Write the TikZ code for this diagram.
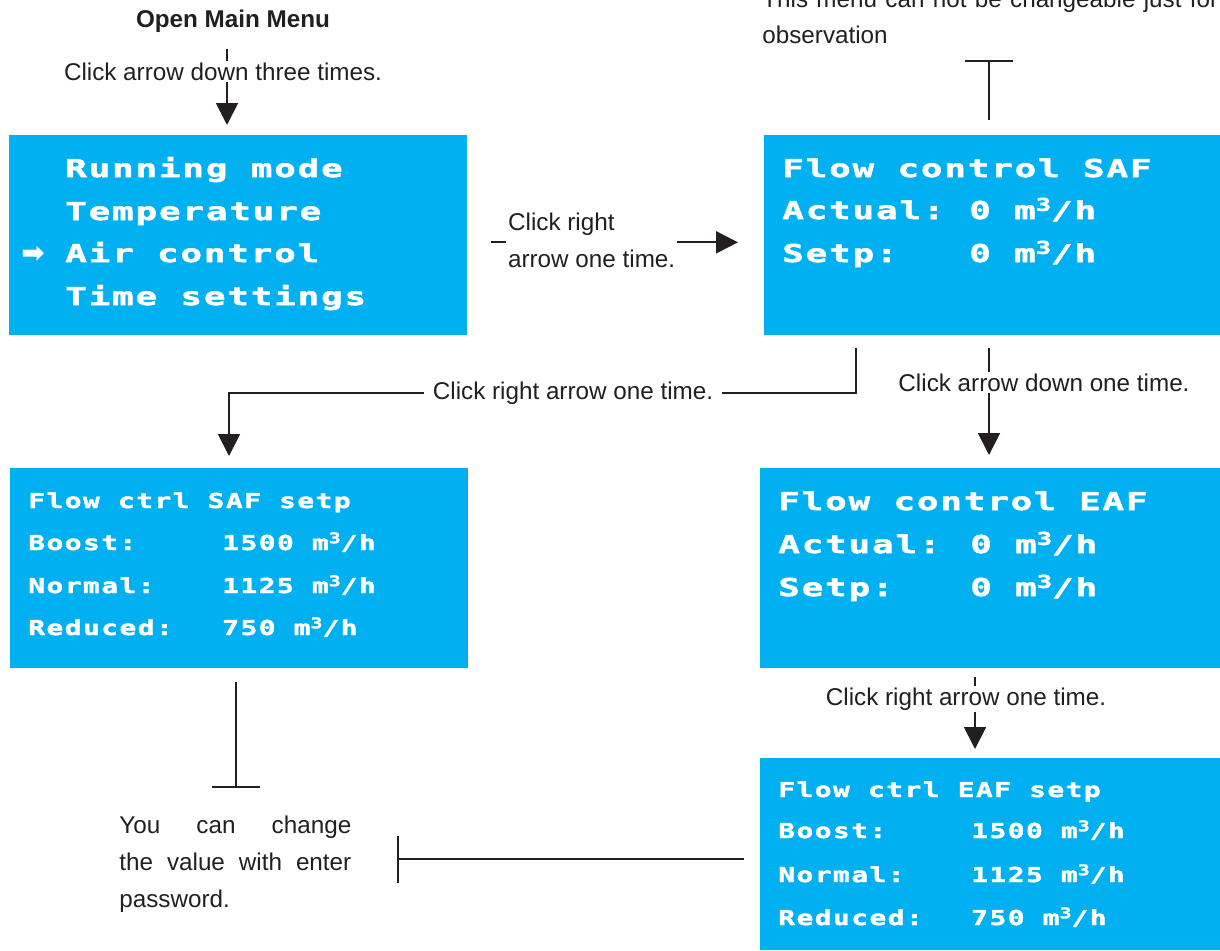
\documentclass[tikz,border=0pt]{standalone}
\usepackage{fontspec}
\setmainfont{Liberation Sans}
\newfontfamily\lcdfont[FakeStretch=1.45,FakeBold=2.2,LetterSpace=8]{DejaVu Sans Mono}
\newfontfamily\lcdsmallfont[FakeStretch=1.35,FakeBold=2,LetterSpace=7.5]{DejaVu Sans Mono}
\newfontfamily\symbolfont{DejaVu Sans}
\usetikzlibrary{arrows.meta,calc}

\definecolor{lcdblue}{RGB}{0,176,240}
\definecolor{ink}{RGB}{35,31,32}
\newcommand{\flowunit}{m\raisebox{0.33em}{\scalebox{0.72}{3}}/h}

\tikzset{
  screen/.style={fill=lcdblue, inner sep=0pt, anchor=north west},
  lcd/.style={text=white, inner sep=0pt, anchor=base west,
    font=\lcdfont\bfseries\fontsize{14}{14}\selectfont},
  lcdsmall/.style={lcd, font=\lcdsmallfont\bfseries\fontsize{11.7}{12}\selectfont},
  note/.style={text=ink, inner sep=0pt, font=\fontsize{13.8}{21}\selectfont},
  cut/.style={note, fill=white, inner xsep=5pt, inner ysep=1pt},
  flow/.style={draw=ink, line width=1.1pt, -{Triangle[length=12.5pt,width=12.5pt]}},
  stopline/.style={draw=ink, line width=1.1pt, -{Bar[width=27pt]}}
}

\begin{document}
\begin{tikzpicture}[x=0.02cm, y=-0.02cm]
\useasboundingbox (0,0) rectangle (1220,950);

% display screens
\node[screen, minimum width=9.16cm, minimum height=4cm] (mainmenu) at (9,135) {};
\node[screen, minimum width=9.16cm, minimum height=4cm] (safview) at (764,135) {};
\node[screen, minimum width=9.16cm, minimum height=4cm] (safsetp) at (10,468) {};
\node[screen, minimum width=9.2cm, minimum height=4cm] (eafview) at (760,468) {};
\node[screen, minimum width=9.2cm, minimum height=3.84cm] (eafsetp) at (760,758) {};

% main menu
\foreach \row/\yy [count=\i] in {Running mode/177, Temperature/220, Air control/262, Time settings/305}
  \node[lcd] (menuline\i) at (65,\yy) {\row};
\node[lcd, font=\symbolfont\bfseries\fontsize{16}{16}\selectfont] (cursor) at (21,262) {➡};

% flow control SAF / EAF
\node[lcd] (saftitle) at (782,177) {Flow control SAF};
\node[lcd] (safact) at (782,219) {Actual:};
\node[lcd] (safactval) at (969,219) {0 \flowunit};
\node[lcd] (safset) at (782,262) {Setp:};
\node[lcd] (safsetval) at (969,262) {0 \flowunit};

\node[lcd] (eaftitle) at (778,510) {Flow control EAF};
\node[lcd] (eafact) at (778,553) {Actual:};
\node[lcd] (eafactval) at (970,553) {0 \flowunit};
\node[lcd] (eafset) at (778,596) {Setp:};
\node[lcd] (eafsetval) at (970,596) {0 \flowunit};

% setpoint screens
\node[lcdsmall] (safsetptitle) at (28,508) {Flow ctrl SAF setp};
\foreach \lbl/\val/\yy [count=\i] in {Boost:/1500/550, Normal:/1125/593, Reduced:/750/635}
{
  \node[lcdsmall] (safmode\i) at (28,\yy) {\lbl};
  \node[lcdsmall] (safmodeval\i) at (222,\yy) {\val\ \flowunit};
}
\node[lcdsmall] (eafsetptitle) at (778,797) {Flow ctrl EAF setp};
\foreach \lbl/\val/\yy [count=\i] in {Boost:/1500/838, Normal:/1125/882, Reduced:/750/925}
{
  \node[lcdsmall] (eafmode\i) at (778,\yy) {\lbl};
  \node[lcdsmall] (eafmodeval\i) at (971,\yy) {\val\ \flowunit};
}

% open menu
\node[note, font=\bfseries\fontsize{13.8}{21}\selectfont] (openmenu) at (233,21) {Open Main Menu};
\coordinate (openfoot) at (227,49);
\draw[flow, shorten >=5.7pt] (openfoot) -- (openfoot |- mainmenu.north);
\node[cut, anchor=base] (down3) at (223,80) {Click arrow down three times.};

% menu -> SAF
\draw[flow] ($(mainmenu.east)+(23,7)$) -- ($(safview.west)+(-26,7)$);
\node[cut, inner xsep=1pt, anchor=west, align=left] (right1) at (506,240.5) {Click right\\arrow one time.};

% SAF -> SAF setpoint
\coordinate (safturn) at ($(safview.south west)+(92,12)$);
\draw[flow] (safturn) |- ($(safsetp.north west)+(219,-75)$) -- ($(safsetp.north west)+(219,-12)$);
\node[cut, anchor=base] (right2) at (573,399) {Click right arrow one time.};

% SAF -> EAF
\draw[flow] ($(safview.south west)+(225,12)$) -- ($(eafview.north west)+(229,-13)$);
\node[cut, anchor=base] (down1) at (1044,391) {Click arrow down one time.};

% EAF -> EAF setpoint
\draw[flow] ($(eafview.south west)+(215,8)$) -- ($(eafsetp.north west)+(215,-9)$);
\node[cut, anchor=base] (right3) at (966,705) {Click right arrow one time.};

% remarks
\draw[stopline] ($(safview.north west)+(225,-15)$) -- ++(0,-60);
\node[note, text width=9.12cm, align=justify, anchor=base west, font=\fontsize{13.8}{20.4}\selectfont] (readonly) at (762,8) {This menu can not be changeable just for\linebreak observation};

\draw[stopline] ($(safsetp.south west)+(226,13)$) -- ++(0,106);
\node[note, text width=4.64cm, align=justify, anchor=base west, font=\fontsize{13.8}{21.2}\selectfont] (pwnote) at (119,833) {You can change\linebreak the value with enter\linebreak password.};
\draw[stopline] ($(eafsetp.west)+(-16,5)$) -- ++(-347,0);
\end{tikzpicture}
\end{document}
